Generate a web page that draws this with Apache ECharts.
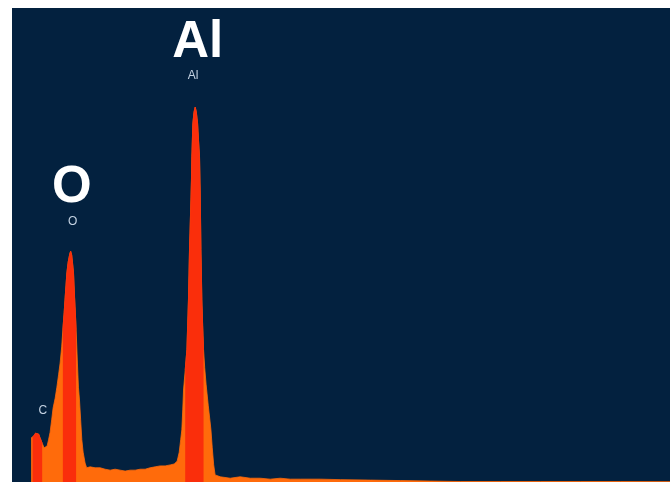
<!DOCTYPE html>
<html>
<head>
<meta charset="utf-8">
<script src="https://cdn.jsdelivr.net/npm/echarts@6/dist/echarts.min.js"></script>
<style>
  html, body { margin: 0; padding: 0; background: #ffffff; }
  #chart { width: 670px; height: 482px; }
</style>
</head>
<body>
<div id="chart"></div>
<script>
// EDS spectrum: energy (keV) and counts (arbitrary units)
const energy = [
  0.217, 0.228, 0.240, 0.251, 0.263, 0.275, 0.286, 0.302, 0.317, 0.328,
  0.340, 0.351, 0.363, 0.375, 0.386, 0.402, 0.415, 0.428, 0.440, 0.452,
  0.461, 0.471, 0.479, 0.492, 0.502, 0.514, 0.521, 0.529, 0.537, 0.543,
  0.551, 0.557, 0.563, 0.573, 0.581, 0.589, 0.598, 0.607, 0.617, 0.632,
  0.644, 0.671, 0.709, 0.748, 0.786, 0.825, 0.863, 0.902, 0.940, 0.979,
  1.017, 1.056, 1.094, 1.132, 1.171, 1.209, 1.248, 1.286, 1.317, 1.340,
  1.356, 1.367, 1.376, 1.383, 1.389, 1.402, 1.415, 1.421, 1.427, 1.435,
  1.446, 1.450, 1.453, 1.461, 1.470, 1.479, 1.487, 1.497, 1.504, 1.512,
  1.517, 1.523, 1.530, 1.536, 1.543, 1.552, 1.563, 1.579, 1.590, 1.600,
  1.610, 1.621, 1.632, 1.671, 1.748, 1.825, 1.902, 1.979, 2.056, 2.133,
  2.210, 2.286, 2.440, 2.594, 2.825, 3.056, 3.286, 3.517, 3.825, 4.133,
  4.440, 4.748, 5.130
];
const counts = [
  93, 95, 97, 103, 105, 101, 93, 82, 72, 70,
  76, 89, 105, 131, 156, 177, 200, 226, 251, 285,
  321, 357, 390, 441, 464, 481, 487, 479, 458, 441,
  390, 357, 321, 251, 200, 173, 131, 89, 63, 40,
  30, 32, 30, 30, 27, 25, 27, 25, 23, 25,
  25, 27, 27, 30, 32, 34, 34, 36, 38, 44,
  63, 89, 110, 152, 194, 236, 279, 331, 384, 490,
  595, 637, 686, 757, 781, 791, 781, 757, 722, 686,
  616, 490, 384, 331, 279, 241, 205, 162, 135, 110,
  72, 36, 15, 11, 8, 11, 8, 8, 6, 8,
  6, 6, 6, 5, 4, 3, 2, 1, 1, 1,
  1, 1, 1
];

// Identified elements, their line energies and region-of-interest windows (keV)
const elements = ['C', 'O', 'Al'];
const lineEnergy = [0.277, 0.525, 1.486];
const roiStart = [0.228, 0.461, 1.402];
const roiEnd = [0.302, 0.563, 1.543];
const showBigLabel = [false, true, true];

const COLOR_BG = '#03213f';
const COLOR_SPECTRUM = '#ff6b0b';
const COLOR_ROI = '#fa2e0b';

const inRoi = e => roiStart.some((s, k) => e >= s && e <= roiEnd[k]);

const spectrum = energy.map((e, i) => [e, counts[i]]);
// ROI part of the same spectrum; gaps outside the windows
const roiSpectrum = energy.map((e, i) => [e, inRoi(e) ? counts[i] : null]);

// Peak height inside each ROI window
const peakHeight = elements.map((_, k) => {
  let m = 0;
  energy.forEach((e, i) => {
    if (e >= roiStart[k] && e <= roiEnd[k]) m = Math.max(m, counts[i]);
  });
  return m;
});

// Label offsets (pixels) relative to each peak top
const smallOffset = [[4, -22], [1.5, -29], [-3, -31]];
const bigOffset = [[0, 0], [0.7, -63], [1.5, -64]];

const smallLabels = elements.map((name, k) => ({
  value: [lineEnergy[k], peakHeight[k]],
  name: name,
  label: { offset: smallOffset[k] }
}));
const bigLabels = elements
  .map((name, k) => ({ k, name }))
  .filter(o => showBigLabel[o.k])
  .map(o => ({
    value: [lineEnergy[o.k], peakHeight[o.k]],
    name: o.name,
    label: { offset: bigOffset[o.k] }
  }));

const chart = echarts.init(document.getElementById('chart'), null, { renderer: 'canvas' });
chart.setOption({
  animation: false,
  backgroundColor: '#ffffff',
  grid: {
    left: 12, right: 0, top: 8, bottom: 0,
    show: true, backgroundColor: COLOR_BG, borderWidth: 0
  },
  xAxis: { type: 'value', min: 0.07, max: 5.13, show: false },
  yAxis: { type: 'value', min: 0, max: 1000, show: false },
  series: [
    {
      type: 'line',
      data: spectrum,
      symbol: 'none',
      color: COLOR_SPECTRUM,
      lineStyle: { width: 0.8, color: COLOR_SPECTRUM },
      areaStyle: { opacity: 1, color: COLOR_SPECTRUM },
      z: 2
    },
    {
      type: 'line',
      data: roiSpectrum,
      symbol: 'none',
      connectNulls: false,
      color: COLOR_ROI,
      lineStyle: { width: 0.8, color: COLOR_ROI },
      areaStyle: { opacity: 1, color: COLOR_ROI },
      z: 3
    },
    {
      type: 'scatter',
      data: smallLabels,
      symbolSize: 0,
      silent: true,
      itemStyle: { opacity: 1 },
      label: {
        show: true,
        position: 'inside',
        formatter: '{b}',
        color: '#c4d2e2',
        fontSize: 12,
        fontFamily: 'Liberation Sans'
      },
      z: 4
    },
    {
      type: 'scatter',
      data: bigLabels,
      symbolSize: 0,
      silent: true,
      itemStyle: { opacity: 1 },
      label: {
        show: true,
        position: 'inside',
        formatter: '{b}',
        color: '#ffffff',
        fontSize: 51,
        fontWeight: 'bold',
        fontFamily: 'Liberation Sans'
      },
      z: 4
    }
  ]
});
</script>
</body>
</html>
